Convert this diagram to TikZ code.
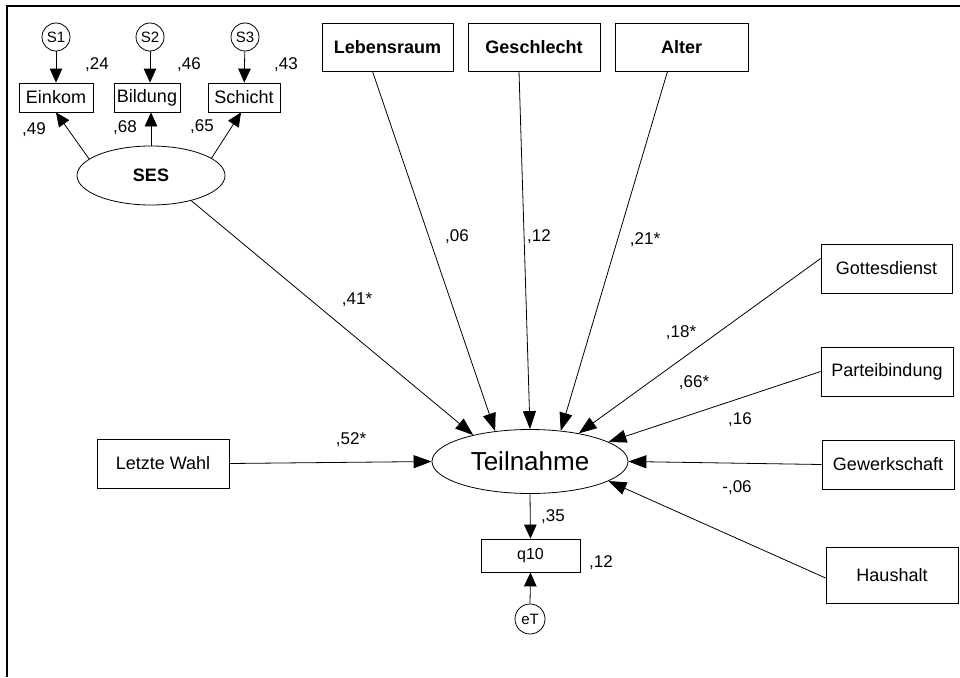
\documentclass[tikz,border=0pt]{standalone}
\usepackage{fontspec}
\setmainfont{Liberation Sans}
\usetikzlibrary{shapes.geometric,arrows.meta}
\begin{document}
\begin{tikzpicture}[x=1pt,y=-1pt,
  obs/.style={draw,rectangle,inner sep=0pt,line width=0.8pt,font=\fontsize{18}{20}\selectfont},
  obsb/.style={obs,font=\fontsize{18}{20}\selectfont\bfseries},
  lat/.style={draw,ellipse,inner sep=0pt,line width=0.8pt},
  err/.style={draw,circle,inner sep=0pt,line width=0.8pt,minimum size=28pt,font=\fontsize{15}{17}\selectfont},
  coef/.style={inner sep=0pt,font=\fontsize{17}{19}\selectfont},
  link/.style={line width=0.8pt,-{Triangle[length=18pt,width=13pt]}},
  slink/.style={line width=0.8pt,-{Triangle[length=14pt,width=12.5pt]}},
]
\useasboundingbox (0,0) rectangle (960,677);
% frame
\draw[line width=2.2pt] (7,677) -- (7,6) -- (960,6);

% SES measurement part
\node[err] (s1) at (56,37) {S1};
\node[err] (s2) at (150,37) {S2};
\node[err] (s3) at (245,37) {S3};
\node[obs,minimum width=74pt,minimum height=29pt] (ein) at (56,97.5) {Einkom};
\node[obs,minimum width=66pt,minimum height=29pt] (bil) at (147,97.5) {Bildung};
\node[obs,minimum width=72pt,minimum height=29pt] (sch) at (244,97.5) {Schicht};
\node[lat,minimum width=148pt,minimum height=59pt,font=\fontsize{18}{20}\selectfont\bfseries] (ses) at (151,175.5) {SES};

% exogenous boxes
\node[obsb,minimum width=131pt,minimum height=48pt] (leb) at (387.5,47) {Lebensraum};
\node[obsb,minimum width=132pt,minimum height=48pt] (ges) at (534,47) {Geschlecht};
\node[obsb,minimum width=133pt,minimum height=48pt] (alt) at (681.5,47) {Alter};
\node[obs,minimum width=131pt,minimum height=49pt] (got) at (886.5,268.5) {Gottesdienst};
\node[obs,minimum width=132pt,minimum height=49pt] (par) at (887,371.5) {Parteibindung};
\node[obs,minimum width=132pt,minimum height=49pt] (gew) at (888,464.5) {Gewerkschaft};
\node[obs,minimum width=132pt,minimum height=56pt] (hau) at (892,575) {Haushalt};
\node[obs,minimum width=132pt,minimum height=49pt] (lw) at (163,463.5) {Letzte Wahl};

% outcome
\node[lat,minimum width=196pt,minimum height=64pt,font=\fontsize{26}{28}\selectfont] (T) at (530,461.5) {Teilnahme};
\node[obs,minimum width=99pt,minimum height=33pt,font=\fontsize{16}{18}\selectfont] (q) at (530.5,555.5) {q10};
\node[err,minimum size=30pt] (eT) at (530,619) {eT};

% measurement arrows
\draw[slink] (s1) -- (ein);
\draw[slink] (s2.south) -- (s2.south |- bil.north);
\draw[slink] (s3) -- (sch);
\draw[slink] (ses.165) -- (ein.south);
\draw[slink] (ses.north) -- (ses.north |- bil.south);
\draw[slink] (ses.16) -- ([xshift=-3pt]sch.south);

% structural arrows
\draw[link] (ses.-32) -- (T.155);
\draw[link] ([xshift=-15pt]leb.south) -- (T.139);
\draw[link] ([xshift=-15pt]ges.south) -- (T.90);
\draw[link] ([xshift=-14pt]alt.south) -- (T.45);
\draw[link] ([yshift=10pt]got.west) -- (T.30);
\draw[link] (par.west) -- (T.14);
\draw[link] (gew.west) -- (T.east);
\draw[link] ([yshift=-3pt]hau.west) -- (T.-14);
\draw[link] (lw.east) -- (T.west);
\draw[slink] (T.south) -- (q.north);
\draw[slink] (eT.north) -- (q.south);

% coefficients
\node[coef] (c24) at (97,65) {,24};
\node[coef] (c46) at (189,65) {,46};
\node[coef] (c43) at (286,65) {,43};
\node[coef] (c49) at (34,130) {,49};
\node[coef] (c68) at (125,128) {,68};
\node[coef] (c65) at (202,127) {,65};
\node[coef] (c41) at (357,300) {,41*};
\node[coef] (c06) at (457,237) {,06};
\node[coef] (c12a) at (539,237) {,12};
\node[coef] (c21) at (645,240) {,21*};
\node[coef] (c18) at (681,333) {,18*};
\node[coef] (c66) at (694,383) {,66*};
\node[coef] (c16) at (740,420) {,16};
\node[coef] (cm06) at (737,488) {-,06};
\node[coef] (c52) at (351,440) {,52*};
\node[coef] (c35) at (553,517) {,35};
\node[coef] (c12b) at (601,563) {,12};
\end{tikzpicture}
\end{document}
